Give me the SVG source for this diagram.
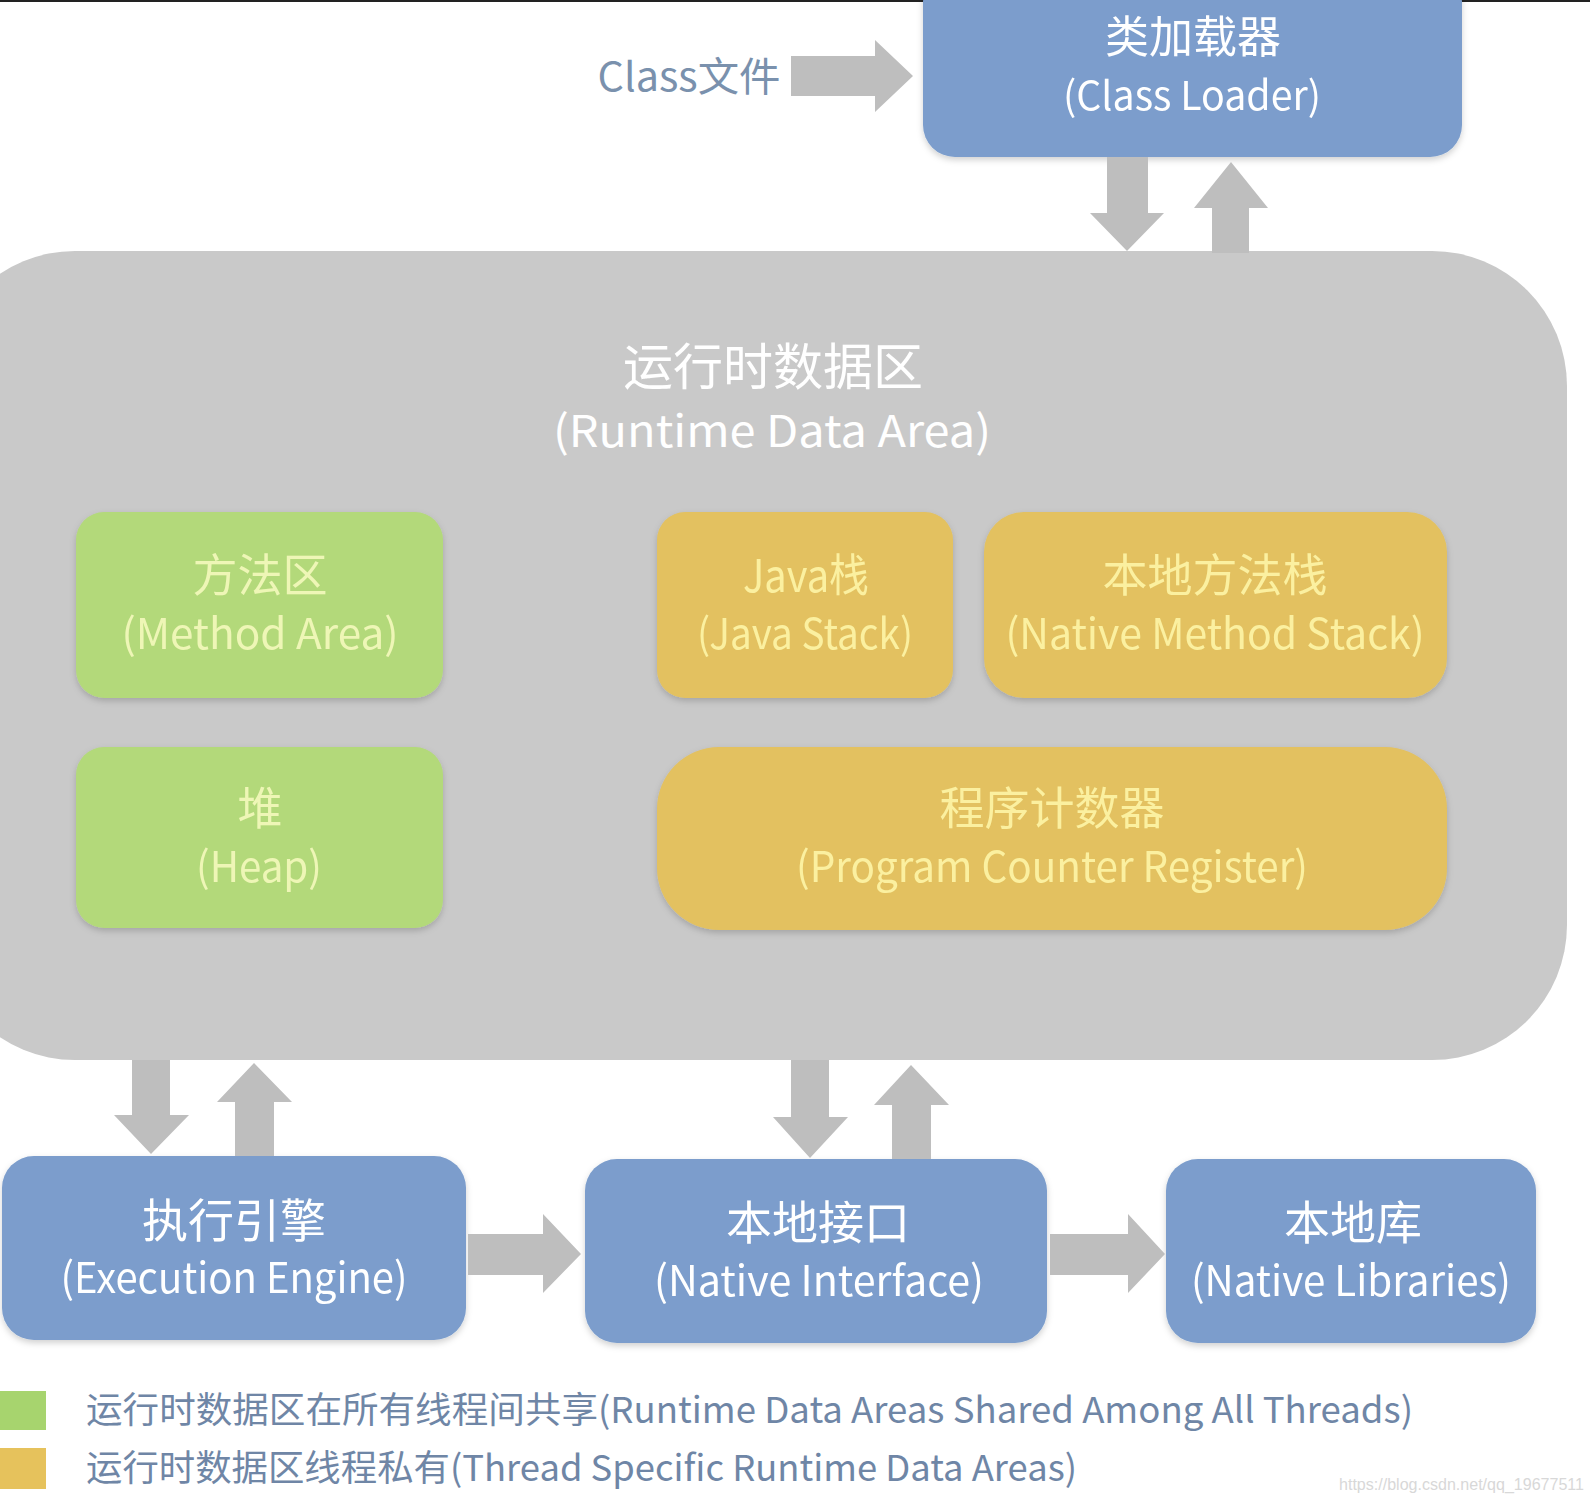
<svg xmlns="http://www.w3.org/2000/svg" width="1590" height="1502" viewBox="0 0 1590 1502">
<style>
.t{font-family:"Noto Sans CJK SC","Noto Sans",sans-serif;text-anchor:middle}
.w{fill:#ffffff}
.g{fill:#eef6b6}
.y{fill:#fbf0a0}
.blue{fill:#7b9dcc}
.green{fill:#b3d97a}
.yel{fill:#e3c160}
.arr{fill:#bebebe}
.leg{font-family:"Noto Sans CJK SC","Noto Sans",sans-serif;fill:#6f86a6;font-size:36px}
</style>
<defs>
<filter id="sh" x="-10%" y="-10%" width="120%" height="130%">
<feDropShadow dx="0" dy="3" stdDeviation="3" flood-color="#000" flood-opacity="0.18"/>
</filter>
</defs>
<rect x="0" y="0" width="1590" height="1502" fill="#ffffff"/>
<rect x="0" y="0" width="1590" height="2" fill="#222"/>

<g id="runtime-data-area">
<rect x="-60" y="251" width="1627" height="809" rx="135" fill="#c9c9c9"/>
<text class="t w" x="773" y="385" font-size="50">运行时数据区</text>
<text class="t w" x="772" y="447" font-size="44" textLength="438" lengthAdjust="spacingAndGlyphs">(Runtime Data Area)</text>
</g>

<g id="class-file">
<text class="t" x="689" y="91" font-size="40" fill="#7a91ad" textLength="183" lengthAdjust="spacingAndGlyphs">Class文件</text>
</g>

<g id="class-loader" filter="url(#sh)">
<rect class="blue" x="923" y="-30" width="539" height="187" rx="32"/>
<text class="t w" x="1193" y="53" font-size="44">类加载器</text>
<text class="t w" x="1192" y="110" font-size="40" textLength="258" lengthAdjust="spacingAndGlyphs">(Class Loader)</text>
</g>

<g id="method-area" filter="url(#sh)">
<rect class="green" x="76" y="512" width="367" height="186" rx="28"/>
<text class="t g" x="260" y="592" font-size="45">方法区</text>
<text class="t g" x="260" y="649" font-size="42" textLength="277" lengthAdjust="spacingAndGlyphs">(Method Area)</text>
</g>

<g id="heap" filter="url(#sh)">
<rect class="green" x="76" y="747" width="367" height="181" rx="28"/>
<text class="t g" x="260" y="825" font-size="45">堆</text>
<text class="t g" x="259" y="882" font-size="42" textLength="126" lengthAdjust="spacingAndGlyphs">(Heap)</text>
</g>

<g id="java-stack" filter="url(#sh)">
<rect class="yel" x="657" y="512" width="296" height="186" rx="28"/>
<text class="t y" x="806" y="592" font-size="45" textLength="126" lengthAdjust="spacingAndGlyphs">Java栈</text>
<text class="t y" x="805" y="649" font-size="42" textLength="216" lengthAdjust="spacingAndGlyphs">(Java Stack)</text>
</g>

<g id="native-method-stack" filter="url(#sh)">
<rect class="yel" x="984" y="512" width="463" height="186" rx="40"/>
<text class="t y" x="1215" y="592" font-size="45">本地方法栈</text>
<text class="t y" x="1215" y="649" font-size="42" textLength="419" lengthAdjust="spacingAndGlyphs">(Native Method Stack)</text>
</g>

<g id="program-counter-register" filter="url(#sh)">
<rect class="yel" x="657" y="747" width="790" height="183" rx="62"/>
<text class="t y" x="1052" y="825" font-size="45">程序计数器</text>
<text class="t y" x="1052" y="882" font-size="42" textLength="512" lengthAdjust="spacingAndGlyphs">(Program Counter Register)</text>
</g>

<g id="execution-engine" filter="url(#sh)">
<rect class="blue" x="2" y="1156" width="464" height="184" rx="32"/>
<text class="t w" x="234" y="1237" font-size="46">执行引擎</text>
<text class="t w" x="234" y="1293" font-size="42" textLength="347" lengthAdjust="spacingAndGlyphs">(Execution Engine)</text>
</g>

<g id="native-interface" filter="url(#sh)">
<rect class="blue" x="585" y="1159" width="462" height="184" rx="32"/>
<text class="t w" x="818" y="1239" font-size="46">本地接口</text>
<text class="t w" x="819" y="1296" font-size="42" textLength="330" lengthAdjust="spacingAndGlyphs">(Native Interface)</text>
</g>

<g id="native-libraries" filter="url(#sh)">
<rect class="blue" x="1166" y="1159" width="370" height="184" rx="32"/>
<text class="t w" x="1353" y="1239" font-size="46">本地库</text>
<text class="t w" x="1351" y="1296" font-size="42" textLength="320" lengthAdjust="spacingAndGlyphs">(Native Libraries)</text>
</g>

<g id="connectors">
<polygon class="arr" points="791,56 875,56 875,40 913,76 875,112 875,96 791,96"/>
<polygon class="arr" points="1107,157 1148,157 1148,213 1164,213 1127,251 1090,213 1107,213"/>
<polygon class="arr" points="1212,253 1212,208 1194,208 1231,162 1268,208 1249,208 1249,253"/>
<polygon class="arr" points="132,1060 170,1060 170,1115 189,1115 151,1154 114,1115 132,1115"/>
<polygon class="arr" points="235,1156 235,1102 217,1102 254,1063 292,1102 274,1102 274,1156"/>
<polygon class="arr" points="791,1060 829,1060 829,1117 848,1117 810,1158 773,1117 791,1117"/>
<polygon class="arr" points="892,1159 892,1105 874,1105 911,1065 949,1105 931,1105 931,1159"/>
<polygon class="arr" points="468,1234 543,1234 543,1214 581,1254 543,1293 543,1275 468,1275"/>
<polygon class="arr" points="1050,1234 1128,1234 1128,1214 1165,1254 1128,1293 1128,1275 1050,1275"/>
</g>

<g id="legend">
<rect x="0" y="1391" width="46" height="39" fill="#a7d46e"/>
<rect x="0" y="1448" width="46" height="41" fill="#e6c25c"/>
<text class="leg" x="86" y="1423" textLength="1327" lengthAdjust="spacingAndGlyphs">运行时数据区在所有线程间共享(Runtime Data Areas Shared Among All Threads)</text>
<text class="leg" x="86" y="1481" textLength="991" lengthAdjust="spacingAndGlyphs">运行时数据区线程私有(Thread Specific Runtime Data Areas)</text>
<text x="1339" y="1490" font-family="Liberation Sans, sans-serif" font-size="16" fill="#d8d8d8" textLength="245" lengthAdjust="spacingAndGlyphs">https://blog.csdn.net/qq_19677511</text>
</g>
</svg>
